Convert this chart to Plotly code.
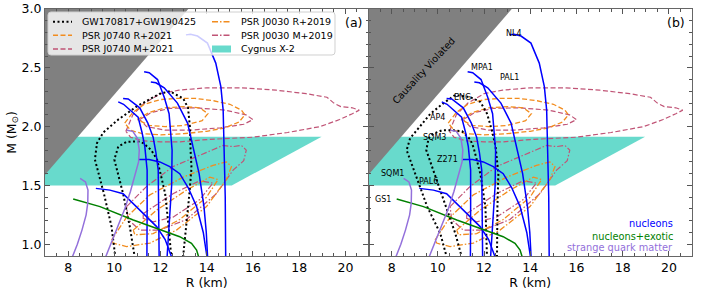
import plotly.graph_objects as go

# ---------------- data ----------------
R_RANGE = [7, 21]
M_RANGE = [0.9, 3.0]
X_TICKS = [8, 10, 12, 14, 16, 18, 20]
Y_TICKS = [1.0, 1.5, 2.0, 2.5, 3.0]
Y_TICKTEXT = ["1.0", "1.5", "2.0", "2.5", "3.0"]

# causality-violated region and Cygnus X-2 band
CAUSAL_R = [5.0, 13.64, 5.0]
CAUSAL_M = [1.136, 3.1, 3.1]
CYG_R = [5.0, 15.08, 18.97, 5.0]
CYG_M = [1.5, 1.5, 1.913, 1.913]

# nucleonic EOS (blue)
NL4_R = [13.1, 13.3, 13.6, 14.03, 14.39, 14.61, 14.71, 14.76, 14.8, 14.82]
NL4_M = [2.78, 2.785, 2.77, 2.71, 2.54, 2.34, 2.14, 1.8, 1.4, 0.88]
MPA1_R = [11.29, 11.51, 11.87, 12.16, 12.37, 12.45, 12.5, 12.48, 12.4, 12.28]
MPA1_M = [2.467, 2.458, 2.40, 2.25, 2.11, 1.94, 1.8, 1.5, 1.2, 0.88]
PAL1_R = [11.58, 11.8, 12.16, 12.73, 13.17, 13.45, 13.67, 13.88, 13.98, 14.04]
PAL1_M = [2.38, 2.373, 2.33, 2.2, 2.03, 1.8, 1.6, 1.32, 1.1, 0.88]
ENG_R = [10.38, 10.6, 11.1, 11.45, 11.68, 11.8, 11.9, 11.93, 11.94]
ENG_M = [2.24, 2.235, 2.16, 2.03, 1.91, 1.78, 1.63, 1.3, 0.88]
AP4_R = [10.17, 10.4, 11.03, 11.2, 11.32, 11.42, 11.42, 11.41]
AP4_M = [2.21, 2.19, 2.08, 1.95, 1.83, 1.63, 1.3, 0.88]
Z271_R = [11.05, 11.5, 11.97, 12.4, 12.83, 13.2, 13.56, 13.85, 14.02]
Z271_M = [1.72, 1.72, 1.70, 1.66, 1.60, 1.48, 1.32, 1.1, 0.88]
PAL6_R = [9.2, 9.5, 9.81, 10.38, 11.1, 11.83, 12.2, 12.5]
PAL6_M = [1.475, 1.47, 1.46, 1.43, 1.29, 1.15, 1.04, 0.88]

# nucleons + exotic (green)
GS1_R = [8.22, 9.38, 10.82, 11.83, 12.83, 13.34, 13.56, 13.67]
GS1_M = [1.385, 1.32, 1.206, 1.135, 1.064, 1.007, 0.95, 0.88]

# strange quark matter (purple)
SQM1_R = [8.52, 8.75, 8.86, 8.85, 8.78, 8.6, 8.4, 8.16]
SQM1_M = [1.56, 1.53, 1.46, 1.35, 1.25, 1.12, 1.0, 0.88]
SQM3_R = [10.55, 10.8, 11.0, 11.08, 11.05, 10.92, 10.7, 10.45, 10.05, 9.6]
SQM3_M = [1.97, 1.96, 1.9, 1.8, 1.7, 1.6, 1.45, 1.3, 1.1, 0.88]

# GW170817+GW190425 contours, panel (a)
GWA_OUT_R = [10.05, 9.88, 9.55, 9.16, 9.25, 9.52, 10.17, 10.96, 11.5, 11.97, 12.4,
             12.98, 13.19, 13.27, 13.3, 13.34, 13.25, 13.09, 12.97]
GWA_OUT_M = [0.88, 1.15, 1.43, 1.72, 1.86, 1.95, 2.06, 2.17, 2.23, 2.28, 2.3,
             2.24, 2.16, 2.0, 1.8, 1.65, 1.43, 1.15, 0.88]
GWA_IN_R = [10.89, 10.67, 10.38, 10.1, 10.0, 10.17, 10.53, 11.0, 11.25, 11.6,
            11.85, 12.0, 12.2, 12.35, 12.47]
GWA_IN_M = [0.88, 1.15, 1.43, 1.65, 1.72, 1.83, 1.87, 1.875, 1.86, 1.8,
            1.72, 1.6, 1.43, 1.15, 0.88]

# GW contours, panel (b)
GWB_OUT_R = [10.4, 10.11, 9.54, 9.03, 8.65, 8.8, 9.2, 9.68, 10.25, 10.76, 11.41,
             11.84, 12.13, 12.34, 12.5, 12.62, 12.58, 12.56]
GWB_OUT_M = [0.88, 1.09, 1.32, 1.6, 1.8, 1.9, 2.0, 2.11, 2.2, 2.27, 2.25,
             2.21, 2.11, 1.97, 1.83, 1.6, 1.32, 0.88]
GWB_IN_R = [11.05, 10.76, 10.35, 10.1, 9.75, 9.5, 9.6, 9.8, 10.2, 10.62, 11.05,
            11.41, 11.55, 11.7, 11.84, 12.06, 12.13]
GWB_IN_M = [0.88, 1.09, 1.32, 1.46, 1.65, 1.8, 1.9, 1.94, 1.97, 1.97, 1.96,
            1.89, 1.82, 1.7, 1.6, 1.32, 0.88]

# PSR J0740 (Riley+2021, orange dashed)
J0740R_OUT_R = [10.45, 10.8, 11.3, 12.0, 12.7, 13.5, 14.3, 15.0, 15.5, 15.65, 15.4,
                14.8, 14.0, 13.0, 12.0, 11.2, 10.7, 10.45]
J0740R_OUT_M = [2.03, 2.12, 2.19, 2.23, 2.24, 2.24, 2.22, 2.19, 2.14, 2.10, 2.04,
                1.99, 1.96, 1.94, 1.93, 1.94, 1.97, 2.03]
J0740R_IN_R = [11.0, 11.5, 12.2, 13.0, 13.7, 14.05, 13.8, 13.0, 12.2, 11.5, 11.0]
J0740R_IN_M = [2.06, 2.12, 2.16, 2.17, 2.16, 2.11, 2.05, 2.01, 2.0, 2.01, 2.06]

# PSR J0740 (Miller+2021, pink dashed)
J0740M_OUT_R = [10.5, 10.8, 11.3, 12.0, 12.8, 14.0, 15.5, 17.0, 18.3, 19.2, 19.5,
                19.8, 20.3, 20.6, 20.3, 19.75, 18.9, 17.5, 16.0, 15.0, 14.0, 12.83,
                12.0, 11.2, 10.7, 10.5]
J0740M_OUT_M = [1.96, 2.1, 2.2, 2.28, 2.31, 2.33, 2.33, 2.31, 2.28, 2.25, 2.2,
                2.17, 2.16, 2.14, 2.11, 2.06, 2.0, 1.95, 1.91, 1.9, 1.89, 1.87,
                1.87, 1.88, 1.91, 1.96]
J0740M_IN_R = [11.1, 11.6, 12.4, 13.5, 14.8, 15.7, 16.0, 15.6, 14.6, 13.3, 12.2, 11.4, 11.1]
J0740M_IN_M = [2.06, 2.12, 2.155, 2.16, 2.14, 2.1, 2.06, 2.02, 1.99, 1.97, 1.97, 2.0, 2.06]

# PSR J0030 (Riley+2019, orange dash-dot)
J0030R_OUT_R = [9.88, 10.53, 11.54, 12.98, 14.27, 14.85, 15.07, 14.85, 13.99, 12.69,
                11.54, 10.53, 9.95, 9.88]
J0030R_OUT_M = [1.036, 1.23, 1.42, 1.57, 1.67, 1.70, 1.66, 1.55, 1.32, 1.12,
                1.01, 0.98, 1.01, 1.036]
J0030R_IN_R = [10.82, 11.83, 13.12, 14.13, 14.49, 13.99, 12.83, 11.68, 10.89, 10.82]
J0030R_IN_M = [1.12, 1.29, 1.46, 1.57, 1.55, 1.40, 1.21, 1.09, 1.08, 1.12]

# PSR J0030 (Miller+2019, pink dash-dot)
J0030M_OUT_R = [10.53, 11.39, 12.54, 13.7, 14.7, 15.14, 15.5, 15.71, 15.6, 15.14,
                14.42, 13.12, 11.97, 11.1, 10.6, 10.53]
J0030M_OUT_M = [1.32, 1.49, 1.66, 1.76, 1.84, 1.83, 1.84, 1.80, 1.71, 1.63,
                1.43, 1.21, 1.12, 1.12, 1.21, 1.32]
J0030M_IN_R = [11.25, 12.54, 13.7, 14.27, 13.7, 12.54, 11.68, 11.25, 11.25]
J0030M_IN_M = [1.26, 1.43, 1.54, 1.52, 1.38, 1.23, 1.19, 1.22, 1.26]

EOS_LABELS = ["NL4", "MPA1", "PAL1", "ENG", "AP4", "SQM3", "Z271", "SQM1", "PAL6", "GS1"]
EOS_LABEL_R = [13.31, 11.91, 13.09, 11.07, 9.99, 9.85, 10.42, 8.04, 9.6, 7.62]
EOS_LABEL_M = [2.79, 2.50, 2.42, 2.25, 2.08, 1.91, 1.72, 1.60, 1.53, 1.38]

LEGEND_NAMES = ["GW170817+GW190425", "PSR J0740 R+2021", "PSR J0740 M+2021",
                "PSR J0030 R+2019", "PSR J0030 M+2019", "Cygnus X-2"]
CLASS_NAMES = ["nucleons", "nucleons+exotic", "strange quark matter"]

# ---------------- styles ----------------
BLUE = "#0000ff"
GREEN = "#008000"
PURPLE = "#9370db"
ORANGE = "rgb(242,140,30)"
PINK = "rgb(192,84,118)"
CYAN = "rgb(104,218,204)"
GRAY = "#808080"
DOT = "2px,2.5px"
DASH = "5px,2.5px"
DASHDOT = "6px,2px,1.5px,2px"
FONT = "DejaVu Sans"

W, H = 714, 291
ML, MR, MT, MB = 45, 22, 9, 35
PW, PH = W - ML - MR, H - MT - MB


def paper(px, py):
    return (px - ML) / PW, (H - MB - py) / PH


fig = go.Figure()


def line(x, y, color, xa, ya, width=1.5, dash=None, fill=None):
    d = dict(x=x, y=y, mode="lines", xaxis=xa, yaxis=ya, hoverinfo="skip",
             showlegend=False, line=dict(color=color, width=width))
    if dash:
        d["line"]["dash"] = dash
    if fill:
        d["fill"] = "toself"
        d["fillcolor"] = fill
        d["line"]["width"] = 0
    fig.add_trace(go.Scatter(**d))


for panel, (xa, ya) in enumerate([("x", "y"), ("x2", "y2")]):
    line(CYG_R, CYG_M, CYAN, xa, ya, fill=CYAN)
    line(CAUSAL_R, CAUSAL_M, GRAY, xa, ya, fill=GRAY)
    for r, m in [(J0740M_OUT_R, J0740M_OUT_M), (J0740M_IN_R, J0740M_IN_M)]:
        line(r, m, PINK, xa, ya, width=1.2, dash=DASH)
    for r, m in [(J0740R_OUT_R, J0740R_OUT_M), (J0740R_IN_R, J0740R_IN_M)]:
        line(r, m, ORANGE, xa, ya, width=1.3, dash=DASH)
    for r, m in [(J0030M_OUT_R, J0030M_OUT_M), (J0030M_IN_R, J0030M_IN_M)]:
        line(r, m, PINK, xa, ya, width=1.2, dash=DASHDOT)
    for r, m in [(J0030R_OUT_R, J0030R_OUT_M), (J0030R_IN_R, J0030R_IN_M)]:
        line(r, m, ORANGE, xa, ya, width=1.3, dash=DASHDOT)
    gw = [(GWA_OUT_R, GWA_OUT_M), (GWA_IN_R, GWA_IN_M)] if panel == 0 else \
         [(GWB_OUT_R, GWB_OUT_M), (GWB_IN_R, GWB_IN_M)]
    for r, m in gw:
        line(r, m, "black", xa, ya, width=2, dash=DOT)
    for r, m in [(NL4_R, NL4_M), (MPA1_R, MPA1_M), (PAL1_R, PAL1_M), (ENG_R, ENG_M),
                 (AP4_R, AP4_M), (Z271_R, Z271_M), (PAL6_R, PAL6_M)]:
        line(r, m, BLUE, xa, ya)
    line(GS1_R, GS1_M, GREEN, xa, ya)
    line(SQM1_R, SQM1_M, PURPLE, xa, ya)
    line(SQM3_R, SQM3_M, PURPLE, xa, ya)

TICKFONT = dict(size=12.5, color="black", family=FONT)
axis_common = dict(range=R_RANGE, tickvals=X_TICKS, ticks="inside", ticklen=5,
                   tickcolor="#555", linecolor="#666", linewidth=1.2, mirror="allticks",
                   showgrid=False, zeroline=False, automargin=False, tickfont=TICKFONT,
                   minor=dict(dtick=0.5, ticks="inside", ticklen=2.5, tickcolor="#555"),
                   title=dict(text="R (km)", font=TICKFONT, standoff=0))
yaxis_common = dict(range=M_RANGE, tickvals=Y_TICKS, ticktext=Y_TICKTEXT, ticks="inside",
                    ticklen=5, tickcolor="#555", linecolor="#666", linewidth=1.2,
                    mirror="allticks", showgrid=False, zeroline=False, automargin=False,
                    tickfont=TICKFONT,
                    minor=dict(dtick=0.1, ticks="inside", ticklen=2.5, tickcolor="#555"))

fig.update_layout(
    width=W, height=H, margin=dict(l=ML, r=MR, t=MT, b=MB, autoexpand=False),
    paper_bgcolor="white", plot_bgcolor="white",
    font=dict(family=FONT, color="black"),
    showlegend=False,
    xaxis=dict(domain=[0, 0.5], **axis_common),
    xaxis2=dict(domain=[0.5, 1], anchor="y2", **axis_common),
    yaxis=dict(domain=[0, 1], **yaxis_common,
               title=dict(text="M (M<sub>⊙</sub>)", font=TICKFONT, standoff=2)),
    yaxis2=dict(domain=[0, 1], anchor="x2", showticklabels=False, **yaxis_common),
)

annotations = []
shapes = []

# panel letters
for xr, txt in [("x domain", "(a)"), ("x2 domain", "(b)")]:
    annotations.append(dict(xref=xr, yref="y domain", x=0.985, y=0.945, text=txt,
                            showarrow=False, xanchor="right", yanchor="middle",
                            font=dict(size=12.5, color="black", family=FONT)))

# causality label in (b)
annotations.append(dict(xref="x2", yref="y2", x=9.38, y=2.48, text="Causality Violated",
                        textangle=-47, showarrow=False,
                        font=dict(size=9.6, color="black", family=FONT)))

# EOS labels in (b)
for t, r, m in zip(EOS_LABELS, EOS_LABEL_R, EOS_LABEL_M):
    annotations.append(dict(xref="x2", yref="y2", x=r, y=m, text=t, showarrow=False,
                            font=dict(size=8, color="black", family=FONT)))

# class labels in (b)
for t, c, py in zip(CLASS_NAMES, [BLUE, GREEN, PURPLE], [223.3, 236.0, 247.3]):
    annotations.append(dict(xref="x2 domain", yref="paper", x=0.947, y=paper(0, py)[1],
                            text=t, showarrow=False, xanchor="right", yanchor="middle",
                            font=dict(size=9.8, color=c, family=FONT)))

# legend box (rounded, semi-transparent)
bx0, by0, bx1, by1, rad = 48, 12, 335, 55, 3


def pp(px, py):
    x, y = paper(px, py)
    return f"{x:.5f},{y:.5f}"


path = (f"M{pp(bx0 + rad, by0)} L{pp(bx1 - rad, by0)} Q{pp(bx1, by0)} {pp(bx1, by0 + rad)} "
        f"L{pp(bx1, by1 - rad)} Q{pp(bx1, by1)} {pp(bx1 - rad, by1)} "
        f"L{pp(bx0 + rad, by1)} Q{pp(bx0, by1)} {pp(bx0, by1 - rad)} "
        f"L{pp(bx0, by0 + rad)} Q{pp(bx0, by0)} {pp(bx0 + rad, by0)} Z")
shapes.append(dict(type="path", path=path, xref="paper", yref="paper", layer="above",
                   fillcolor="rgba(255,255,255,0.8)", line=dict(color="#d0d0d0", width=1)))

rows = [21.7, 35.3, 49.0]
leg_styles = [("black", DOT, 2), (ORANGE, DASH, 1.5), (PINK, DASH, 1.5),
              (ORANGE, DASHDOT, 1.5), (PINK, DASHDOT, 1.5), (None, None, None)]
for i, (name, st) in enumerate(zip(LEGEND_NAMES, leg_styles)):
    col, row = divmod(i, 3)
    sx0, sx1, tx = (53, 72, 80) if col == 0 else (212, 231, 238.5)
    py = rows[row]
    if st[0] is None:
        x0, y0 = paper(sx0, py - 3.5)
        x1, y1 = paper(sx1, py + 3.5)
        shapes.append(dict(type="rect", xref="paper", yref="paper", x0=x0, x1=x1,
                           y0=y0, y1=y1, layer="above", fillcolor=CYAN, line=dict(width=0)))
    else:
        x0, y0 = paper(sx0, py)
        x1, _ = paper(sx1, py)
        shapes.append(dict(type="line", xref="paper", yref="paper", x0=x0, x1=x1,
                           y0=y0, y1=y0, layer="above",
                           line=dict(color=st[0], dash=st[1], width=st[2])))
    txp, typ = paper(tx, py)
    annotations.append(dict(xref="paper", yref="paper", x=txp, y=typ, text=name,
                            showarrow=False, xanchor="left", yanchor="middle",
                            font=dict(size=9.5, color="black", family=FONT)))

fig.update_layout(annotations=annotations, shapes=shapes)
fig.write_html("out.html", config={"displayModeBar": False},
               post_script="document.body.style.margin='0px';document.body.style.overflow='hidden';")
